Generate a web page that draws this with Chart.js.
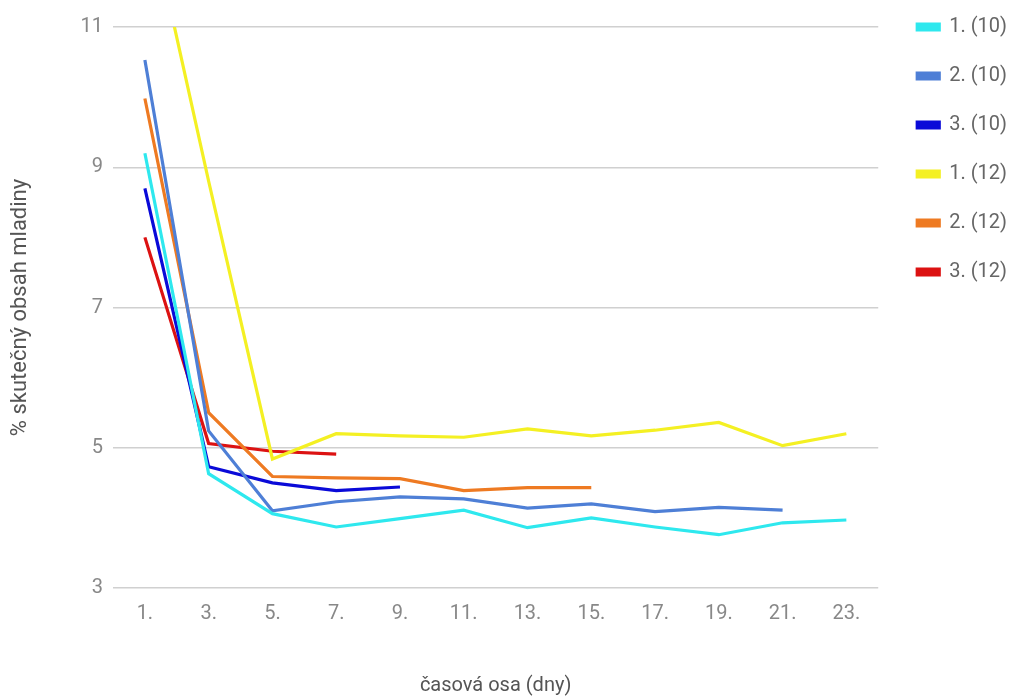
<!DOCTYPE html>
<html>
<head>
<meta charset="utf-8">
<script src="https://cdn.jsdelivr.net/npm/chart.js@4/dist/chart.umd.min.js"></script>
<style>
  html, body { margin: 0; padding: 0; background: #fff; }
  #wrap { width: 1019px; height: 698px; }
</style>
</head>
<body>
<div id="wrap"><canvas id="myChart"></canvas></div>
<script>
// x axis: days
let days = ['1.', '3.', '5.', '7.', '9.', '11.', '13.', '15.', '17.', '19.', '21.', '23.'];

// % skutečný obsah mladiny
let s1_10 = [9.2, 4.63, 4.06, 3.87, 3.99, 4.11, 3.86, 4.0, 3.87, 3.76, 3.93, 3.97];
let s2_10 = [10.53, 5.24, 4.1, 4.23, 4.3, 4.27, 4.14, 4.2, 4.09, 4.15, 4.11, null];
let s3_10 = [8.7, 4.73, 4.5, 4.39, 4.44, null, null, null, null, null, null, null];
let s1_12 = [12.9, 8.8, 4.84, 5.2, 5.17, 5.15, 5.27, 5.17, 5.25, 5.36, 5.03, 5.2];
let s2_12 = [9.98, 5.5, 4.59, 4.57, 4.56, 4.39, 4.43, 4.43, null, null, null, null];
let s3_12 = [8.0, 5.06, 4.95, 4.91, null, null, null, null, null, null, null, null];

let yTicks = [3, 5, 7, 9, 11];

function line(label, values, color) {
    return {
        label: label,
        data: values,
        borderColor: color,
        backgroundColor: color,
        borderWidth: 3.2,
        pointRadius: 0,
        tension: 0,
        clip: 0
    }
}

let data = {
    labels: days,
    datasets: [
        line('1. (10)', s1_10, '#2ee8ee'),
        line('2. (10)', s2_10, '#4e7fd6'),
        line('3. (10)', s3_10, '#0a0ad8'),
        line('1. (12)', s1_12, '#f4f023'),
        line('2. (12)', s2_12, '#ee7a22'),
        line('3. (12)', s3_12, '#dc1212')
    ]
}

let config = {
    type: 'line',
    data,
    options: {
        responsive: true,
        maintainAspectRatio: false,
        animation: false,
        layout: { padding: { top: 0, right: 2, bottom: 0, left: 0 } },
        plugins: {
            // empty title only keeps the plot 27px below the top
            title: { display: true, text: '', padding: 0, font: { size: 27, lineHeight: 1 } },
            tooltip: { enabled: false },
            legend: {
                position: 'right',
                align: 'start',
                labels: {
                    color: '#666',
                    font: { family: 'Roboto', size: 20, lineHeight: 1.6 },
                    boxWidth: 22,
                    boxHeight: 6,
                    padding: 17,
                    generateLabels: function(chart) {
                        return Chart.defaults.plugins.legend.labels.generateLabels(chart).map(function(l) {
                            l.text = [l.text];
                            return l;
                        });
                    }
                }
            }
        },
        scales: {
            x: {
                offset: true,
                grid: { display: false, drawTicks: false },
                border: { display: false },
                ticks: { color: '#888', padding: 14, font: { family: 'Roboto', size: 20 }, maxRotation: 0, autoSkip: false },
                title: {
                    display: true,
                    text: 'časová osa (dny)',
                    color: '#555',
                    font: { family: 'Roboto', size: 20 },
                    padding: { top: 0, bottom: 0 }
                },
                afterFit: function(s) { s.height = 110; }
            },
            y: {
                min: 3,
                max: 11,
                afterBuildTicks: function(s) { s.ticks = yTicks.map(v => ({ value: v })); },
                grid: { color: '#d0d0d0', lineWidth: 1.5, drawTicks: false },
                border: { display: false },
                ticks: { color: '#888', padding: 10, font: { family: 'Roboto', size: 20 } },
                title: {
                    display: true,
                    text: '% skutečný obsah mladiny',
                    color: '#555',
                    font: { family: 'Roboto', size: 22 },
                    padding: { top: 7, bottom: 0 }
                },
                afterFit: function(s) { s.width = 113; }
            },
            r: {
                position: 'right',
                grid: { display: false, drawTicks: false },
                border: { display: false },
                ticks: { display: false },
                afterFit: function(s) { s.width = 22; }
            }
        }
    }
}

let myChart = new Chart(document.getElementById('myChart'), config);
</script>
</body>
</html>
